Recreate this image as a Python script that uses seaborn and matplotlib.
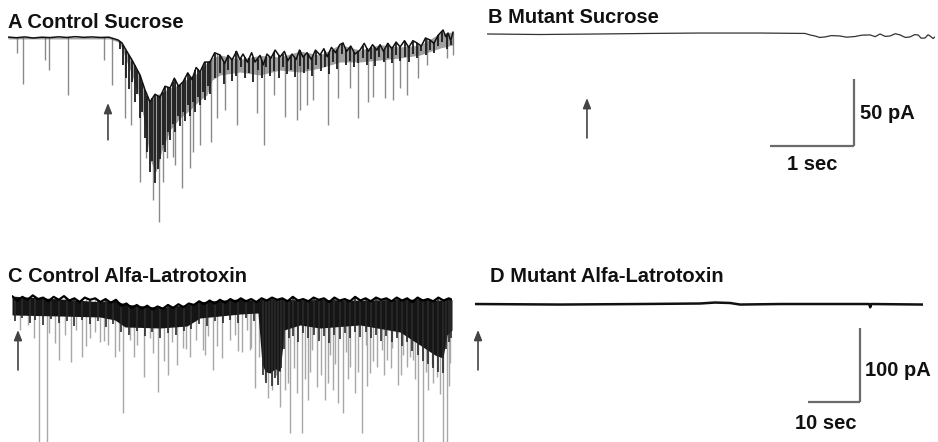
import numpy as np
import pandas as pd
import matplotlib
matplotlib.use("Agg")
import matplotlib.pyplot as plt
import seaborn as sns

sns.set_theme(style="white")
plt.rcParams['font.family'] = ['Liberation Sans', 'DejaVu Sans']

# ---------------- DATA (time in s, current in pA) ----------------
# Panel A: Control Sucrose
a_trace_t = [0, 0.1, 0.2, 0.3, 0.4, 0.5, 0.6, 0.7, 0.8, 0.9, 1.0, 1.1, 1.2, 1.26, 1.31, 1.357, 1.405,
             1.476, 1.571, 1.631, 1.69, 1.75, 1.81, 1.87, 1.929, 1.98, 2.03, 2.083, 2.14, 2.19, 2.24,
             2.286, 2.34, 2.405, 2.46, 2.524, 2.58, 2.62, 2.667, 2.72, 2.76, 2.798, 2.85, 2.9, 2.94,
             3.0, 3.04, 3.083, 3.13, 3.18, 3.238, 3.29, 3.33, 3.381, 3.43, 3.47, 3.512, 3.56, 3.61,
             3.66, 3.714, 3.76, 3.8, 3.85, 3.9, 3.95, 3.988, 4.03, 4.08, 4.13, 4.19, 4.24, 4.29,
             4.34, 4.39, 4.429, 4.47, 4.52, 4.57, 4.62, 4.667, 4.72, 4.77, 4.82, 4.869, 4.92, 4.97,
             5.024, 5.07, 5.12, 5.179, 5.21, 5.238, 5.27, 5.298]
a_trace_i = [0.7, 0.2, 0.8, 0, 0.6, 0.3, 0.9, 0.4, 1.0, 0.5, 0.8, 0.4, 0.6, -0.5, -1.5, -3.7, -9.0,
             -16.4, -27.6, -38.8, -47.7, -42, -44.0, -36, -37.3, -30, -36, -32.8, -26, -31, -22,
             -25.4, -18, -17.9, -11, -12.7, -19, -13, -16.4, -10, -16, -12, -18, -11, -17.9,
             -13, -20, -12, -15, -9, -14.2, -10, -17, -12, -16, -9, -14.2, -11, -16,
             -9, -12.7, -8, -14, -7, -11, -5, -3.7, -10, -6, -12, -9.0, -4, -10,
             -5, -9, -5, -10, -4, -8, -3, -6.7, -2, -7, -2, -3.7, -6, 0,
             -1.5, -4, 2, 6.0, 1, 3.7, -2, 4.5]
a_band_t = [0, 1.214, 1.31, 1.357, 1.405, 1.476, 1.571, 1.631, 1.69, 1.762, 1.833, 1.929, 2.048,
            2.167, 2.286, 2.369, 2.429, 2.524, 2.762, 3.0, 3.238, 3.476, 3.714, 3.952, 4.19,
            4.429, 4.667, 4.905, 5.143, 5.298]
a_band_low = [-0.7, -0.7, -3.0, -7.5, -16.4, -27.6, -46.3, -64.9, -91.0, -100.0, -83.6, -68.6, -59.7,
              -53.7, -46.3, -42.5, -31.3, -27.6, -25.4, -27.6, -23.9, -25.4, -22.4, -17.9, -17.9,
              -16.4, -14.9, -12.7, -7.5, -5.2]
a_dark_t = [1.33, 1.37, 1.41, 1.44, 1.48, 1.51, 1.54, 1.57, 1.60, 1.63, 1.66, 1.69, 1.72, 1.75, 1.78,
            1.81, 1.84, 1.87, 1.90, 1.93, 1.96, 1.99, 2.02, 2.05, 2.08, 2.11, 2.14, 2.17, 2.20, 2.23,
            2.26, 2.29, 2.32, 2.35, 2.38, 2.41, 2.47, 2.52, 2.57, 2.62, 2.67, 2.72, 2.77, 2.82, 2.87,
            2.92, 2.97, 3.02, 3.07, 3.12, 3.17, 3.22, 3.27, 3.32, 3.37, 3.42, 3.47, 3.52, 3.57, 3.62,
            3.67, 3.72, 3.77, 3.82, 3.87, 3.92, 3.97, 4.02, 4.07, 4.12, 4.17, 4.22, 4.27, 4.32, 4.37,
            4.42, 4.47, 4.52, 4.57, 4.62, 4.67, 4.72, 4.77, 4.82, 4.87, 4.92, 4.97, 5.02, 5.07, 5.12,
            5.17, 5.22, 5.27]
a_dark_i = [-8, -20, -30, -38, -33, -48, -42, -60, -55, -75, -85, -100, -92, -108, -98,
            -90, -80, -85, -70, -76, -64, -70, -58, -66, -55, -62, -50, -58, -48, -55,
            -44, -50, -40, -46, -36, -42, -30, -26, -34, -24, -32, -28, -22, -30, -26,
            -33, -24, -30, -22, -28, -25, -30, -22, -27, -24, -29, -21, -26, -23, -28,
            -20, -25, -22, -27, -18, -23, -12, -20, -17, -22, -19, -15, -20, -16, -21,
            -14, -18, -15, -19, -13, -17, -14, -18, -12, -15, -10, -13, -9, -11, -6,
            -3, -8, -5]
a_spike_t = [0.107, 0.179, 0.44, 0.488, 0.714, 1.143, 1.238, 1.393, 1.464, 1.571, 1.643, 1.726,
             1.798, 1.845, 1.893, 1.964, 1.988, 2.071, 2.167, 2.202, 2.286, 2.417, 2.488, 2.583,
             2.726, 2.964, 3.048, 3.167, 3.298, 3.44, 3.476, 3.56, 3.631, 3.81, 3.929, 4.071,
             4.167, 4.286, 4.345, 4.488, 4.583, 4.667, 4.75, 4.881, 4.988, 5.226, 5.298]
a_spike_i = [-11.2, -34.3, -16.4, -23.9, -42.5, -16.4, -35.1, -59.7, -64.9, -107.4, -89.5, -120.9,
             -137.3, -107.4, -89.5, -88.8, -94.7, -111.9, -97.0, -85.0, -79.8, -77.6, -59.7, -53.7,
             -64.9, -55.9, -79.8, -42.5, -58.9, -61.2, -53.7, -50.0, -46.3, -64.9, -44.8, -37.3,
             -59.7, -47.7, -44.0, -44.8, -46.3, -37.3, -42.5, -29.8, -20.1, -14.9, -12.7]

# Panel B: Mutant Sucrose
b_trace_t = [0, 0.631, 1.345, 1.94, 2.536, 3.25, 3.786, 3.85, 3.905, 3.96, 4.024, 4.1, 4.202, 4.28,
             4.381, 4.46, 4.56, 4.62, 4.679, 4.74, 4.798, 4.86, 4.917, 4.98, 5.036, 5.09, 5.131,
             5.17, 5.214, 5.25, 5.274, 5.31, 5.333]
b_trace_i = [0, -0.4, 0, 0.4, 0.7, 0.7, 0.4, -0.8, -1.5, -2.6, -2.2, -1.2, -1.5, -2.4,
             -1.9, -0.9, -0.7, -2.0, 0, -1.8, -1.5, 0.2, -0.7, -2.6, -2.2, -0.5, -0.7,
             -3.2, -3.0, -0.6, -1.5, -3.4, -2.2]

# Panel C: Control Alfa-Latrotoxin
c_top_t = [0, 1, 2, 3, 4, 5, 6, 7, 8, 9, 10, 11, 12, 13, 14, 15, 16, 17, 18, 19, 20, 21, 22, 23, 24,
           25, 26, 27, 28, 29, 30, 31, 32, 33, 34, 35, 36, 37, 38, 39, 40, 41, 42, 43, 44, 45, 46,
           47, 48, 49, 50, 51, 52, 53, 54, 55, 56, 57, 58, 59, 60, 61, 62, 63, 64, 65, 66, 67, 68,
           69, 70, 71, 72, 73, 74, 75, 76, 77, 78, 79, 80, 81, 82, 83, 84, 84.62]
c_top_i = [12, 6, 11, 7, 13, 8, 10, 5, 11, 7, 12, 6, 9, 4, 10, 7, 9, 4, 8, 3, 7, -1, 2, -4, 0,
           -5, -1, -6, -2, -5, 0, -4, 1, -3, 2, 0, 5, 1, 6, 2, 7, 3, 8, 4, 9, 5, 8,
           4, 9, 6, 10, 7, 9, 5, 11, 6, 8, 5, 10, 7, 9, 4, 10, 6, 8, 5, 11, 6, 9,
           5, 10, 7, 9, 5, 10, 6, 9, 4, 10, 6, 8, 5, 10, 6, 9, 7]
c_low_t = [0, 9.23, 16.92, 19.81, 21.73, 28.46, 33.65, 36.15, 43.85, 47.31, 48.08, 48.7, 49.62,
           50.6, 51.54, 52.0, 52.31, 55.38, 59.23, 66.92, 74.62, 78.46, 81.35, 82.88, 83.65, 84.62]
c_low_i = [-13.5, -14.9, -16.2, -20.3, -29.7, -31.1, -28.4, -17.6, -12.2, -10.8, -80.0, -90.0, -91.9,
           -86.0, -90.0, -60.0, -33.8, -27.0, -31.1, -27.0, -36.5, -54.1, -67.6, -71.6, -40.5, -33.8]
c_dark_t = [0.5, 2.0, 3.5, 4.5, 6.0, 7.5, 9.0, 10.5, 12.0, 13.5, 15.0, 16.5, 18.0, 19.5, 21.0, 22.5,
            24.0, 25.5, 27.0, 28.5, 30.0, 31.5, 33.0, 34.5, 36.0, 37.5, 39.0, 40.5, 42.0, 43.5, 45.0,
            46.5, 48.2, 48.8, 49.4, 50.0, 50.6, 51.2, 51.8, 52.4, 53.2, 54.0, 55.0, 56.0, 57.0, 58.0,
            59.0, 60.0, 61.0, 62.0, 63.0, 64.0, 65.0, 66.0, 67.0, 68.0, 69.0, 70.0, 71.0, 72.0, 73.0,
            74.0, 75.0, 76.0, 77.0, 78.0, 79.0, 80.0, 81.0, 82.0, 82.8, 83.4, 84.0, 84.5]
c_dark_i = [-22, -18, -25, -20, -27, -19, -24, -21, -28, -20, -26, -22, -30, -26, -36, -40,
            -35, -42, -37, -44, -38, -41, -35, -33, -26, -28, -22, -25, -20, -24, -18,
            -22, -95, -105, -90, -110, -98, -108, -85, -60, -45, -42, -50, -38, -45, -40,
            -48, -42, -52, -40, -46, -38, -44, -36, -43, -37, -45, -40, -48, -42, -50,
            -45, -55, -50, -62, -68, -75, -80, -85, -90, -92, -60, -50, -45]
c_spike_t = [5.19, 6.73, 8.27, 9.04, 11.35, 13.46, 15.0, 16.92, 18.46, 19.81, 21.35, 25.38, 28.08,
             30.0, 31.73, 34.23, 36.73, 38.65, 40.38, 41.92, 44.23, 45.77, 46.73, 48.65, 50.0,
             51.54, 52.5, 53.46, 54.81, 55.77, 56.92, 58.65, 60.19, 61.73, 62.69, 63.65, 65.0,
             65.96, 67.31, 68.85, 70.19, 72.12, 74.23, 75.96, 78.08, 79.04, 80.0, 81.73, 82.88,
             83.65, 84.23,
             1.54, 3.08, 10.19, 12.31, 15.96, 22.69, 24.04, 26.54, 30.77, 32.88, 35.38, 37.69,
             42.88, 45.19, 57.69, 61.15, 64.23, 68.08, 71.15, 73.08, 75.19, 77.12, 80.77,
             47.5, 49.2, 50.8, 53.0, 54.2, 56.3, 57.4, 59.5, 60.8, 62.2, 64.6, 66.5, 68.3, 69.5,
             71.5, 72.8, 74.8, 76.5, 77.6, 79.6, 81.0, 82.3, 84.0,
             4.2, 7.2, 14.2, 17.6, 20.5, 23.4, 27.2, 29.2, 33.5, 37.2, 39.5, 43.5, 46.0]
c_spike_i = [-200, -200, -51.3, -74.3, -77.0, -70.3, -44.6, -50.0, -54.0, -70.3, -145.9, -97.3, -117.5,
             -94.6, -81.1, -70.3, -60.8, -87.8, -71.6, -47.3, -63.5, -60.8, -112.1, -101.3, -114.8,
             -137.8, -114.8, -172.9, -118.9, -172.9, -128.3, -110.8, -128.3, -114.8, -132.4, -145.9, -83.8,
             -118.9, -172.9, -91.9, -83.8, -74.3, -108.1, -83.8, -200, -200, -114.8, -97.3, -200,
             -200, -78.4,
             -33.8, -27.0, -40.5, -33.8, -36.5, -47.3, -54.0, -44.6, -50.0, -58.1, -47.3, -41.9,
             -40.5, -33.8, -60.8, -67.6, -63.5, -54.0, -60.8, -58.1, -67.6, -74.3, -81.1,
             -70, -125, -95, -105, -85, -100, -90, -95, -105, -80, -100, -90, -110, -75,
             -95, -85, -95, -70, -100, -90, -105, -120, -110,
             -45, -38, -55, -48, -62, -70, -65, -75, -60, -68, -55, -62, -58]

# Panel D: Mutant Alfa-Latrotoxin
d_trace_t = [0, 16.35, 31.73, 43.27, 46.15, 49.04, 50.96, 58.65, 68.27, 75.8, 76.0, 76.2, 86.15]
d_trace_i = [0, -0.7, 0, 0.7, 2.0, 1.4, -0.7, 0, 0, 0, -4.5, 0, -0.7]

# stimulus onsets (arrows) and scale bars
onset_sucrose = 1.19          # s (A and B)
onset_toxin = [1.15, 0.58]    # s (C, D)
scale_sucrose = (1, 50)       # 1 sec, 50 pA
scale_toxin = (10, 100)       # 10 sec, 100 pA
titles = ["A Control Sucrose", "B Mutant Sucrose", "C Control Alfa-Latrotoxin", "D Mutant Alfa-Latrotoxin"]

# ---------------- FIGURE ----------------
W, H = 938, 442
fig = plt.figure(figsize=(W / 100, H / 100), dpi=100)
fig.patch.set_facecolor("white")

def add_ax(x0, x1, y0, y1, xlim, ylim):
    ax = fig.add_axes([x0 / W, 1 - y1 / H, (x1 - x0) / W, (y1 - y0) / H])
    ax.set_xlim(*xlim)
    ax.set_ylim(*ylim)
    ax.axis("off")
    return ax

axA = add_ax(8, 455, 25, 230, (0, 5.321), (-143.3, 9.7))
axB = add_ax(487, 935, 25, 230, (0, 5.333), (-146.3, 6.7))
axC = add_ax(12, 452, 285, 442, (0, 84.62), (-185.1, 27.0))
axD = add_ax(475, 923, 285, 442, (0, 86.15), (-186.4, 25.7))

def spikes(ax, base_t, base_i, st, si, color, lw, z=1):
    st = np.asarray(st); si = np.asarray(si)
    base = np.interp(st, base_t, base_i)
    ax.vlines(st, si, base, colors=color, linewidth=lw, zorder=z)

# A
spikes(axA, a_trace_t, a_trace_i, a_spike_t, a_spike_i, "#8a8a8a", 1.0)
axA.fill_between(a_band_t, np.interp(a_band_t, a_trace_t, a_trace_i), a_band_low,
                 color="#555555", alpha=0.55, linewidth=0, zorder=2)
spikes(axA, a_trace_t, a_trace_i, a_dark_t, a_dark_i, "#1c1c1c", 1.3, z=2.5)
sns.lineplot(x=a_trace_t, y=a_trace_i, ax=axA, color="#111111", linewidth=1.1,
             estimator=None, sort=False, zorder=3)

# B
sns.lineplot(x=b_trace_t, y=b_trace_i, ax=axB, color="#333333", linewidth=0.9,
             estimator=None, sort=False)

# C
spikes(axC, c_top_t, c_top_i, c_spike_t, c_spike_i, "#a8a8a8", 1.0)
lowC = np.interp(c_top_t, c_low_t, c_low_i)
axC.fill_between(c_top_t, np.minimum(np.asarray(c_top_i) - 6, lowC + 4), lowC + 4, color="black",
                 linewidth=0, zorder=2)
axC.fill_between(c_low_t, np.interp(c_low_t, c_top_t, c_top_i), c_low_i, color="#151515",
                 linewidth=0, zorder=2)
spikes(axC, c_top_t, c_top_i, c_dark_t, c_dark_i, "#2a2a2a", 1.2, z=2.5)
sns.lineplot(x=c_top_t, y=c_top_i, ax=axC, color="black", linewidth=1.6,
             estimator=None, sort=False, zorder=3)

# D
sns.lineplot(x=d_trace_t, y=d_trace_i, ax=axD, color="#111111", linewidth=1.8,
             estimator=None, sort=False)

for ax in (axA, axB, axC, axD):
    if ax.get_legend() is not None:
        ax.get_legend().remove()
    ax.set_xlabel(""); ax.set_ylabel("")

# arrows
arrow_kw = dict(arrowstyle="-|>,head_length=0.5,head_width=0.2", color="#444444", lw=1.2,
                shrinkA=0, shrinkB=0)
axA.annotate("", xy=(onset_sucrose, -48.5), xytext=(onset_sucrose, -76), arrowprops=arrow_kw)
axB.annotate("", xy=(onset_sucrose, -47.8), xytext=(onset_sucrose, -77.6), arrowprops=arrow_kw)
axC.annotate("", xy=(onset_toxin[0], -33.8), xytext=(onset_toxin[0], -87.8), arrowprops=arrow_kw)
axD.annotate("", xy=(onset_toxin[1], -35.0), xytext=(onset_toxin[1], -89.0), arrowprops=arrow_kw)

# scale bars
bar_col = "#6b6b6b"
sx, sy = 4.37, -83.6
axB.plot([sx - scale_sucrose[0], sx], [sy, sy], color=bar_col, lw=1.6, solid_capstyle="butt")
axB.plot([sx, sx], [sy, sy + scale_sucrose[1]], color=bar_col, lw=1.6, solid_capstyle="butt")
axB.text(sx + 0.07, sy + scale_sucrose[1] / 2 - 1, f"{scale_sucrose[1]} pA", fontsize=14.5,
         fontweight="bold", ha="left", va="center", color="#111111")
axB.text(sx - scale_sucrose[0] / 2, -97.7, f"{scale_sucrose[0]} sec", fontsize=14.5,
         fontweight="bold", ha="center", va="center", color="#111111")

tx, ty = 74.1, -132.4
axD.plot([tx - scale_toxin[0], tx], [ty, ty], color=bar_col, lw=1.6, solid_capstyle="butt")
axD.plot([tx, tx], [ty, ty + scale_toxin[1]], color=bar_col, lw=1.6, solid_capstyle="butt")
axD.text(tx + 0.9, ty + scale_toxin[1] / 2 - 6.8, f"{scale_toxin[1]} pA", fontsize=14.5,
         fontweight="bold", ha="left", va="center", color="#111111")
axD.text(tx - 6.6, -160.8, f"{scale_toxin[0]} sec", fontsize=14.5,
         fontweight="bold", ha="center", va="center", color="#111111")

# titles
title_pos = [(8, 22), (488, 17.5), (8, 276), (490, 277)]
for (px, py), t in zip(title_pos, titles):
    fig.text(px / W, 1 - py / H, t, fontsize=14.5, fontweight="bold", ha="left", va="center",
             color="#111111")

fig.savefig("out.png", dpi=100, facecolor="white")
